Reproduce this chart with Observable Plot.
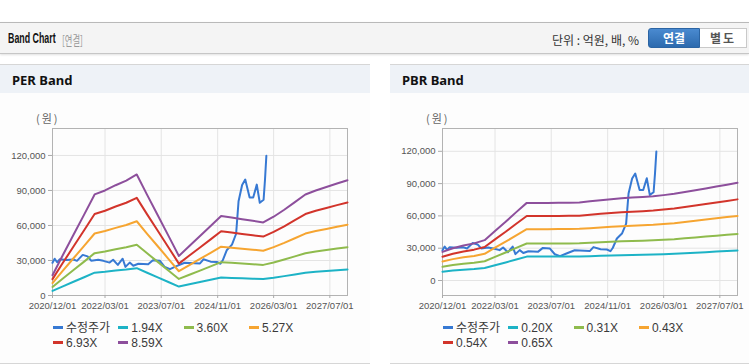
<!DOCTYPE html>
<html><head><meta charset="utf-8">
<script src="https://cdn.jsdelivr.net/npm/d3@7"></script>
<script src="https://cdn.jsdelivr.net/npm/@observablehq/plot@0.6"></script>
<style>
body{margin:0;width:749px;height:364px;overflow:hidden;background:#fff;position:relative;font-family:"Liberation Sans","Noto Sans CJK KR",sans-serif;}
.abs{position:absolute;}
#topbar{left:0;top:22px;width:749px;height:30px;background:#f4f4f4;border-top:1px solid #b9b9b9;border-bottom:1px solid #c6c6c6;box-shadow:0 1px 2px rgba(0,0,0,0.12);}
#title{left:8px;top:6px;font:bold 15.5px "Liberation Sans",sans-serif;color:#111;transform:scaleX(0.57);transform-origin:0 0;white-space:nowrap;}
#title2{left:62px;top:7px;font:13px "Noto Sans CJK KR",sans-serif;color:#999;transform:scaleX(0.64);transform-origin:0 0;white-space:nowrap;}
#unit{left:552px;top:8px;font:12px "Noto Sans CJK KR",sans-serif;color:#333;white-space:nowrap;}
#btn1{left:648px;top:5px;width:52px;height:20px;background:linear-gradient(#4a8ad0,#2c6aae);border:1px solid #2b64a3;border-radius:3px 0 0 3px;color:#fff;font:bold 12px "Noto Sans CJK KR",sans-serif;text-align:center;line-height:18px;box-sizing:border-box;}
#btn2{left:700px;top:5px;width:47px;height:20px;background:#fff;border:1px solid #c9c9c9;border-left:none;color:#555;font:bold 12px "Noto Sans CJK KR",sans-serif;text-align:center;line-height:18px;box-sizing:border-box;letter-spacing:2px;}
.panel{top:64px;height:298px;background:#fdfdfd;border-top:1px solid #d6d6d6;border-bottom:1px solid #d6d6d6;}
.phead{left:0;top:0;right:0;height:28px;background:#eef2f7;}
.phead div{position:absolute;left:12px;top:6px;font:bold 13px "Noto Sans","Liberation Sans",sans-serif;color:#111;}
.unitlbl{font:11px "Noto Sans CJK KR",sans-serif;color:#666;letter-spacing:2px;}
.leg{font:12px "Liberation Sans","Noto Sans CJK KR",sans-serif;color:#3a3a3a;white-space:nowrap;line-height:13px;height:13px;}
.sw{display:inline-block;width:10px;height:3px;vertical-align:middle;margin-right:3px;position:relative;top:-1px;}
</style></head><body>
<script>
// ---- shared axis data ----
const xTickLabels = ["2020-12-01","2022-03-01","2023-07-01","2024-11-01","2026-03-01","2027-07-01"];
const yTickValues = [0, 30000, 60000, 90000, 120000];
const bandDates = ["2020-12-01","2021-03-01","2021-06-01","2021-09-01","2021-12-01","2022-03-01","2022-06-01","2022-09-01","2022-12-01","2023-03-01","2023-06-01","2023-09-01","2023-12-01","2024-03-01","2024-06-01","2024-09-01","2024-12-01","2025-03-01","2025-06-01","2025-09-01","2025-12-01","2026-03-01","2026-06-01","2026-09-01","2026-12-01","2027-03-01","2027-06-01","2027-09-01","2027-12-01"];

// ---- adjusted price (수정주가) ----
const priceDates = ["2020-12-01","2020-12-20","2021-01-10","2021-02-01","2021-04-01","2021-06-01","2021-07-01","2021-08-20","2021-10-01","2021-11-01","2022-01-01","2022-02-15","2022-04-10","2022-05-10","2022-06-20","2022-08-01","2022-08-25","2022-10-01","2022-11-01","2022-12-15","2023-03-10","2023-04-20","2023-06-20","2023-08-01","2023-09-15","2023-11-10","2024-01-20","2024-06-01","2024-07-01","2024-09-01","2024-10-25","2024-11-25","2024-12-15","2025-01-20","2025-03-05","2025-04-10","2025-05-01","2025-06-01","2025-06-28","2025-08-05","2025-09-05","2025-10-06","2025-11-01","2025-12-04","2025-12-16","2025-12-28"];
const priceValues = [28000,31500,28500,31000,30500,30800,29700,34800,33500,29800,30600,29700,28200,30600,26200,31500,24500,28200,25500,27200,26800,30300,29700,24400,22600,25100,28100,27500,31000,29000,28800,27200,30200,39000,43600,52900,80800,94700,99400,84000,84000,95000,79500,82000,99000,119800];

// ---- PER band ----
const perNames = ["1.94X","3.60X","5.27X","6.93X","8.59X"];
const per194 = [3930,7838,11745,15652,19559,20325,21342,22246,23420,19468,15537,11586,7655,9599,11518,13460,15404,15085,14771,14455,14137,15245,16599,18067,19536,20325,21004,21681,22314];
const per360 = [7294,14544,21794,29045,36295,37717,39604,41281,43459,36126,28832,21499,14206,17813,21373,24977,28584,27994,27410,26824,26233,28289,30802,33527,36252,37717,38977,40234,41407];
const per527 = [10677,21291,31905,42518,53132,55214,57975,60431,63619,52884,42207,31472,20795,26076,31288,36563,41844,40980,40126,39267,38402,41412,45090,49080,53069,55214,57058,58898,60616];
const per693 = [14040,27997,41954,55911,69868,72606,76237,79466,83659,69543,55502,41386,27346,34290,41143,48080,55024,53888,52765,51635,50499,54456,59293,64539,69785,72606,75031,77450,79709];
const per859 = [17400,34700,52000,69300,86600,90000,94500,98500,103700,86200,68800,51300,33900,42500,51000,59600,68200,66800,65400,64000,62600,67500,73500,80000,86500,90000,93000,96000,98800];

// ---- PBR band ----
const pbrNames = ["0.20X","0.31X","0.43X","0.54X","0.65X"];
const pbr020 = [8185,9231,10000,10615,11538,14154,16769,19538,22185,22185,22185,22215,22246,22308,22615,22923,23231,23477,23692,23846,24062,24400,24769,25292,25785,26308,26862,27385,27908];
const pbr031 = [12686,14308,15500,16454,17885,21938,25992,30285,34386,34386,34386,34434,34482,34577,35054,35531,36008,36389,36723,36962,37295,37820,38392,39203,39966,40777,41635,42446,43257];
const pbr043 = [17597,19846,21500,22823,24808,30431,36054,42008,47697,47697,47697,47763,47829,47961,48623,49284,49946,50476,50939,51269,51732,52460,53254,54379,55437,56561,57752,58877,60001];
const pbr054 = [22098,24923,27000,28662,31154,38215,45277,52754,59898,59898,59898,59982,60065,60231,61062,61892,62723,63388,63969,64385,64966,65880,66877,68289,69618,71031,72526,73938,75351];
const pbr065 = [26600,30000,32500,34500,37500,46000,54500,63500,72100,72100,72100,72200,72300,72500,73500,74500,75500,76300,77000,77500,78200,79300,80500,82200,83800,85500,87300,89000,90700];

const priceName = "수정주가";
const priceColor = "#3779d3";
const bandColors = ["#1db3c6","#8fbb4d","#f6a531","#d2342b","#8d4f9c"];
</script>

<div id="topbar" class="abs">
  <div id="title" class="abs">Band Chart</div>
  <div id="title2" class="abs">[연결]</div>
  <div id="unit" class="abs">단위 : 억원, 배, %</div>
  <div id="btn1" class="abs">연결</div>
  <div id="btn2" class="abs">별도</div>
</div>

<div id="perPanel" class="abs panel" style="left:0;width:370px;">
  <div class="abs phead"><div>PER Band</div></div>
</div>
<div id="pbrPanel" class="abs panel" style="left:390px;width:359px;">
  <div class="abs phead"><div>PBR Band</div></div>
</div>
<div class="abs unitlbl" style="left:36px;top:110px;">(원)</div>
<div class="abs unitlbl" style="left:426px;top:110px;">(원)</div>
<div id="perChart" class="abs" style="left:0;top:120px;"></div>
<div id="pbrChart" class="abs" style="left:390px;top:120px;"></div>
<div id="perLegend"></div>
<div id="pbrLegend"></div>

<script>
const parse = d3.utcParse("%Y-%m-%d");
const xDomain = [parse("2020-12-01"), parse("2027-12-01")];
const xTicks = xTickLabels.map(parse);
const priceRows = priceDates.map((d,i)=>({date:parse(d), value:priceValues[i]}));

function bandRows(names, arrays){
  const rows = [];
  names.forEach((n,k)=>bandDates.forEach((d,i)=>rows.push({date:parse(d), value:arrays[k][i], series:n})));
  return rows;
}

function makeChart(width, marginRight, yDomain, names, arrays){
  return Plot.plot({
    width, height:200,
    marginLeft:52, marginRight, marginTop:8, marginBottom:25,
    style:{fontFamily:'"Liberation Sans",sans-serif', fontSize:"9.5px", color:"#555", background:"transparent", overflow:"visible"},
    x:{type:"utc", domain:xDomain},
    y:{domain:yDomain},
    color:{domain:names, range:bandColors},
    marks:[
      Plot.gridY(yTickValues, {stroke:"#e4e4e4", strokeOpacity:1}),
      Plot.gridX(xTicks, {stroke:"#e4e4e4", strokeOpacity:1}),
      Plot.frame({stroke:"#b3b3b3"}),
      Plot.axisY(yTickValues, {tickSize:4, tickPadding:3, tickFormat:d3.format(","), label:null, stroke:"#aaa"}),
      Plot.axisX(xTicks, {tickSize:3, tickPadding:4, tickFormat:d3.utcFormat("%Y/%m/%d"), label:null, stroke:"#aaa"}),
      Plot.line(priceRows, {x:"date", y:"value", stroke:priceColor, strokeWidth:2}),
      Plot.line(bandRows(names, arrays), {x:"date", y:"value", z:"series", stroke:"series", strokeWidth:2})
    ]
  });
}

document.getElementById("perChart").appendChild(
  makeChart(370, 23, [0, 143100], perNames, [per194, per360, per527, per693, per859]));
document.getElementById("pbrChart").appendChild(
  makeChart(359, 12, [-13930, 141180], pbrNames, [pbr020, pbr031, pbr043, pbr054, pbr065]));

function legend(containerId, left, names){
  const el = document.getElementById(containerId);
  const items = [{name:priceName, color:priceColor}].concat(names.map((n,i)=>({name:n, color:bandColors[i]})));
  items.forEach((it,i)=>{
    const row = i < 4 ? 0 : 1, col = i < 4 ? i : i-4;
    const d = document.createElement("div");
    d.className = "abs leg";
    d.style.left = (left + col*65.3) + "px";
    d.style.top = (322 + row*15) + "px";
    d.innerHTML = `<span class="sw" style="background:${it.color}"></span>${it.name}`;
    el.appendChild(d);
  });
}
legend("perLegend", 53, perNames);
legend("pbrLegend", 443, pbrNames);
</script>
</body></html>
